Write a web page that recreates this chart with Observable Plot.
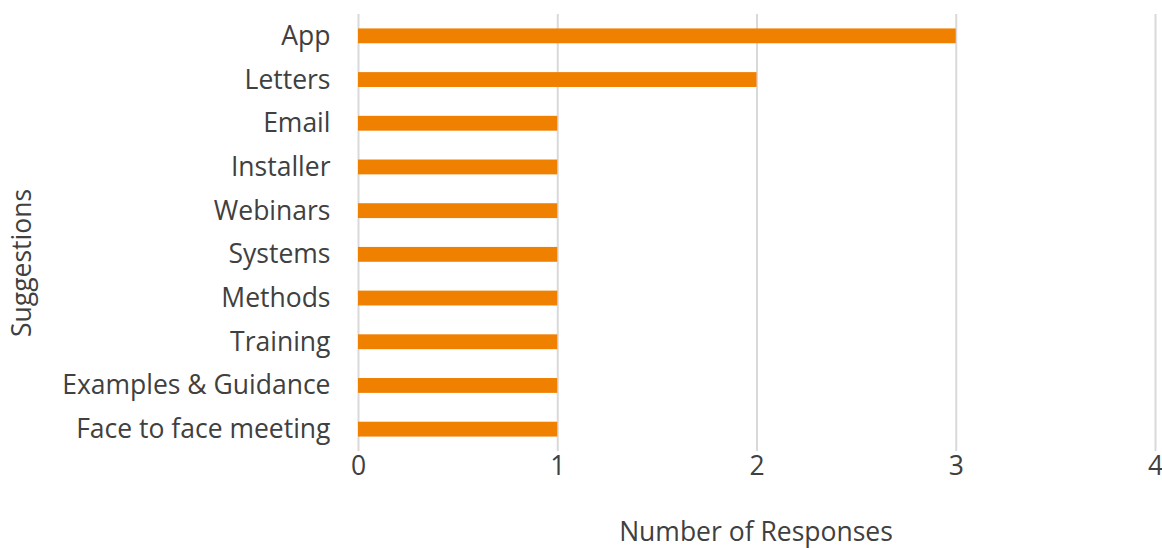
<!DOCTYPE html>
<html>
<head>
<meta charset="utf-8">
<script src="https://cdn.jsdelivr.net/npm/d3@7"></script>
<script src="https://cdn.jsdelivr.net/npm/@observablehq/plot@0.6"></script>
<style>
  html, body { margin: 0; padding: 0; background: #fff; }
  svg { display: block; }
</style>
</head>
<body>
<div id="chart"></div>
<script>
const categories = ["App", "Letters", "Email", "Installer", "Webinars", "Systems", "Methods", "Training", "Examples & Guidance", "Face to face meeting"];
const responses = [3, 2, 1, 1, 1, 1, 1, 1, 1, 1];
const xTicks = [0, 1, 2, 3, 4];
const xLabel = "Number of Responses";
const yLabel = "Suggestions";

const data = categories.map((c, i) => ({category: c, value: responses[i]}));
const textColor = "#404040";
const fs = 26.5;

const chart = Plot.plot({
  width: 1162,
  height: 548,
  marginLeft: 358,
  marginRight: 7,
  marginTop: 14,
  marginBottom: 97,
  style: {fontFamily: "'Open Sans', sans-serif", fontSize: fs + "px", color: textColor, background: "#fff"},
  x: {domain: [0, 4], ticks: xTicks},
  y: {domain: categories, paddingInner: 0.66, paddingOuter: 0.33, round: false},
  marks: [
    Plot.gridX(xTicks, {stroke: "#d9d9d9", strokeOpacity: 1, strokeWidth: 2}),
    Plot.barX(data, {x: "value", y: "category", fill: "#F08000"}),
    Plot.axisX(xTicks, {tickSize: 0, tickPadding: 5, fontSize: fs, fill: textColor, label: null, tickFormat: d => String(d)}),
    Plot.axisY({tickSize: 0, tickPadding: 28, fontSize: fs, fill: textColor, label: null})
  ]
});
document.getElementById("chart").appendChild(chart);

const svg = d3.select(chart);
svg.append("text")
  .attr("x", 756)
  .attr("y", 541)
  .attr("text-anchor", "middle")
  .attr("fill", textColor)
  .style("font-size", fs + "px")
  .text(xLabel);
svg.append("text")
  .attr("transform", "translate(31,263) rotate(-90)")
  .attr("text-anchor", "middle")
  .attr("fill", textColor)
  .style("font-size", fs + "px")
  .text(yLabel);
</script>
</body>
</html>
